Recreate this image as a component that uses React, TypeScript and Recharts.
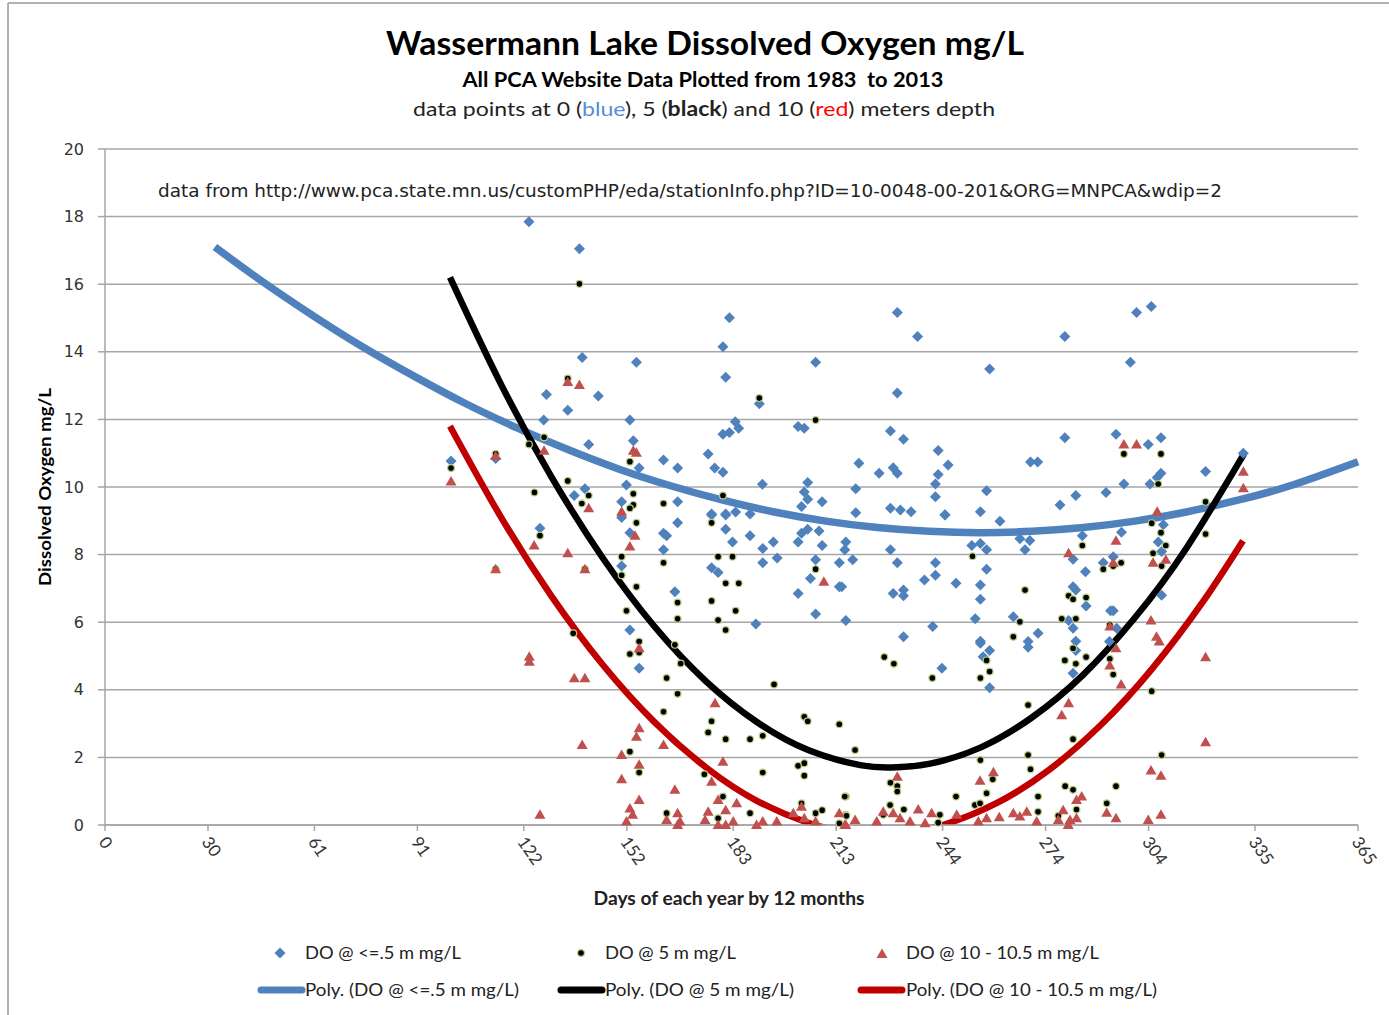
import React from 'react';
import { ComposedChart, Scatter, Line, XAxis, YAxis, CartesianGrid } from 'recharts';

// day-of-year ticks (month boundaries) and DO ticks
const dayTicks = [0, 30, 61, 91, 122, 152, 183, 213, 244, 274, 304, 335, 365];
const doTicks = [0, 2, 4, 6, 8, 10, 12, 14, 16, 18, 20];

// [day of year, DO mg/L]
const surfacePoints: [number, number][] = [
  [123.5, 17.85], [138.2, 17.05], [139.0, 13.83], [154.8, 13.69], [181.9, 15.01], [180.0, 14.15], [180.8, 13.25],
  [207.0, 13.69], [128.6, 12.74], [134.8, 12.27], [143.7, 12.69], [127.8, 11.98], [152.9, 11.98], [140.9, 11.26],
  [153.9, 11.37], [155.6, 10.56], [162.7, 10.8], [166.8, 10.56], [175.7, 10.98], [177.6, 10.56], [180.0, 10.44],
  [180.0, 11.56], [181.9, 11.61], [183.6, 11.93], [184.6, 11.74], [190.6, 12.46], [191.5, 10.08], [201.9, 11.79],
  [203.7, 11.74], [204.7, 10.13], [203.7, 9.85], [204.7, 9.64], [208.9, 9.56], [202.9, 9.42], [100.8, 10.77],
  [113.8, 10.84], [139.8, 9.95], [136.7, 9.75], [166.8, 9.56], [176.7, 9.2], [180.8, 9.2], [183.7, 9.26],
  [187.9, 9.2], [151.9, 10.06], [150.5, 9.56],
  [230.8, 15.16], [236.7, 14.45], [230.8, 12.78], [257.7, 13.49], [279.6, 14.45], [300.5, 15.16], [304.8, 15.34],
  [298.7, 13.69], [228.8, 11.66], [232.6, 11.41], [242.7, 11.08], [219.6, 10.7], [225.5, 10.41], [229.6, 10.57],
  [230.8, 10.41], [242.7, 10.37], [245.6, 10.65], [241.9, 10.09], [218.7, 9.95], [241.9, 9.71], [256.8, 9.89],
  [269.6, 10.74], [271.7, 10.74], [279.6, 11.46], [294.5, 11.56], [303.9, 11.26], [307.6, 11.46], [307.6, 10.41],
  [306.5, 10.28], [296.8, 10.09], [304.4, 10.09], [291.6, 9.84], [282.8, 9.75], [278.2, 9.47], [320.6, 10.46],
  [331.6, 11.0], [218.7, 9.24], [228.8, 9.37], [231.7, 9.32], [234.8, 9.27], [244.7, 9.18], [255.0, 9.27],
  [126.7, 8.78], [150.5, 9.1], [152.9, 8.65], [150.5, 7.66], [152.9, 5.77], [155.6, 4.64], [162.7, 8.63],
  [163.6, 8.56], [162.7, 8.14], [166.8, 8.94], [166.0, 6.9], [176.7, 9.17], [180.8, 9.17], [180.8, 8.75],
  [187.9, 8.56], [182.8, 8.37], [176.7, 7.61], [178.6, 7.47], [191.6, 8.18], [194.7, 8.37], [191.6, 7.76],
  [195.8, 7.9], [189.6, 5.95], [201.9, 8.37], [202.9, 8.63], [204.7, 8.75], [208.0, 8.7], [208.9, 8.27],
  [207.0, 7.85], [205.5, 7.29], [201.9, 6.85], [207.0, 6.24], [213.9, 7.76], [213.9, 7.05], [215.8, 8.37],
  [215.8, 6.05],
  [215.5, 8.14], [217.8, 7.85], [214.6, 7.05], [228.8, 8.14], [230.8, 7.76], [229.6, 6.85], [232.6, 6.95],
  [232.6, 6.78], [238.7, 7.25], [241.9, 7.76], [241.9, 7.39], [247.9, 7.15], [241.1, 5.87], [232.6, 5.57],
  [243.8, 4.64], [244.7, 9.17], [252.5, 8.27], [255.0, 8.33], [256.8, 8.14], [256.8, 7.57], [255.0, 7.1],
  [255.0, 6.68], [253.5, 6.1], [255.0, 5.44], [255.0, 5.38], [257.7, 5.16], [255.8, 4.98], [257.7, 4.06],
  [260.7, 8.99], [266.5, 8.47], [268.0, 8.14], [269.4, 8.42], [264.6, 6.16], [268.9, 5.43], [268.9, 5.26],
  [271.8, 5.67], [282.0, 7.05], [282.8, 6.95], [285.8, 6.48], [285.6, 7.49], [282.0, 7.86], [284.7, 8.56],
  [280.7, 6.05], [282.0, 5.82], [282.8, 5.44], [282.8, 5.16], [282.0, 4.49], [290.8, 7.76], [293.7, 7.94],
  [292.9, 6.34], [293.7, 6.34], [294.7, 5.82], [292.6, 5.43], [296.1, 8.66], [306.8, 8.37], [307.8, 8.09],
  [307.8, 6.8], [308.3, 8.88],
];

const fiveMeterPoints: [number, number][] = [
  [138.2, 16.01], [134.8, 13.21], [190.6, 12.63], [207.0, 11.98], [127.9, 11.47], [123.5, 11.26], [100.8, 10.56],
  [113.8, 10.98], [152.9, 10.75], [134.8, 10.18], [125.1, 9.84], [140.9, 9.75], [138.9, 9.51], [153.9, 9.8],
  [153.9, 9.47], [152.9, 9.37], [162.7, 9.51], [180.0, 9.75],
  [296.8, 10.98], [307.6, 10.98], [306.8, 10.09], [320.6, 9.56],
  [126.7, 8.56], [113.8, 7.57], [139.8, 7.57], [154.8, 8.94], [150.5, 7.94], [150.5, 7.39], [154.8, 7.05],
  [151.9, 6.34], [162.7, 7.76], [166.8, 6.58], [166.8, 6.1], [176.7, 8.94], [178.6, 7.94], [182.8, 7.94],
  [180.8, 7.15], [184.6, 7.15], [176.7, 6.63], [183.7, 6.34], [178.6, 6.06], [180.8, 5.77], [207.0, 7.57],
  [136.4, 5.67], [155.6, 5.43], [152.9, 5.06], [155.6, 5.1], [166.0, 5.33], [167.7, 4.78], [163.6, 4.35],
  [166.8, 3.88], [162.7, 3.35], [194.9, 4.16], [176.7, 3.07], [175.7, 2.74], [180.8, 2.54], [187.9, 2.54],
  [191.6, 2.64], [203.7, 3.2], [204.7, 3.07], [213.9, 2.98], [152.9, 2.17], [155.6, 1.55], [174.6, 1.5],
  [191.6, 1.55], [201.9, 1.75], [203.7, 1.83], [203.7, 1.46], [180.0, 0.84], [215.8, 0.84], [163.6, 0.35],
  [187.9, 0.35], [202.9, 0.64], [208.9, 0.44], [207.0, 0.35], [178.6, 0.2], [215.8, 0.3], [213.9, 0.05],
  [252.7, 7.95], [284.7, 8.27], [296.0, 7.76], [290.8, 7.57], [293.7, 7.66], [305.3, 8.04], [307.8, 7.66],
  [309.0, 8.27], [307.6, 8.65], [304.9, 8.93], [320.6, 8.61], [268.0, 6.95], [280.7, 6.78], [282.0, 6.68],
  [285.8, 6.73], [278.7, 6.1], [282.8, 6.1], [266.5, 6.01], [264.6, 5.57], [292.7, 5.92], [282.0, 5.23],
  [279.6, 4.87], [282.8, 4.77], [285.8, 4.97], [292.7, 4.92], [293.7, 4.45], [256.8, 4.87], [257.7, 4.54],
  [255.0, 4.35], [227.0, 4.97], [229.8, 4.77], [241.0, 4.35], [304.9, 3.96], [268.9, 3.55], [218.5, 2.22],
  [282.0, 2.54], [307.8, 2.07], [268.9, 2.07], [255.0, 1.92], [269.6, 1.65], [258.6, 1.35], [256.8, 0.94],
  [247.9, 0.84], [271.8, 0.84], [279.7, 1.15], [282.0, 1.04], [294.5, 1.15], [291.8, 0.64], [283.0, 0.46],
  [271.8, 0.39], [277.7, 0.27], [253.4, 0.59], [254.9, 0.64], [228.8, 1.25], [230.8, 1.15], [230.8, 0.99],
  [215.5, 0.84], [228.7, 0.59], [232.7, 0.46], [216.0, 0.27], [243.2, 0.3], [226.7, 0.3], [242.7, 0.07],
];

const tenMeterPoints: [number, number][] = [
  [134.8, 13.11], [138.2, 13.02], [127.9, 11.07], [153.9, 11.07], [154.8, 11.01], [113.8, 10.92], [100.8, 10.16],
  [140.9, 9.37], [150.5, 9.27],
  [296.8, 11.26], [300.5, 11.26], [331.6, 10.45], [331.6, 9.96], [306.5, 9.27], [209.4, 7.2],
  [113.8, 7.57], [125.0, 8.27], [134.8, 8.04], [139.8, 7.57], [154.4, 8.56], [152.9, 8.24], [123.6, 4.98],
  [123.6, 4.83], [136.7, 4.34], [139.8, 4.34], [155.6, 5.23], [177.7, 3.6], [155.6, 2.86], [154.8, 2.61],
  [162.7, 2.37], [139.0, 2.37], [150.5, 2.07], [155.6, 1.78], [150.5, 1.35], [180.0, 1.87], [166.0, 1.04],
  [176.7, 1.28], [126.7, 0.3], [155.6, 0.74], [152.9, 0.49], [153.7, 0.3], [151.9, 0.1], [163.6, 0.15],
  [166.8, 0.35], [167.5, 0.1], [166.8, 0.0], [175.7, 0.39], [178.6, 0.74], [180.8, 0.44], [178.6, 0.0],
  [180.8, 0.0], [183.0, 0.1], [184.0, 0.64], [191.6, 0.1], [195.7, 0.1], [189.8, 0.0], [202.9, 0.54],
  [203.7, 0.2], [207.0, 0.1], [213.9, 0.35], [215.8, 0.0], [200.5, 0.35], [174.8, 0.15],
  [294.5, 8.41], [280.7, 8.04], [293.7, 7.76], [305.3, 7.76], [309.0, 7.85], [304.7, 6.05], [292.7, 5.87],
  [306.3, 5.57], [307.1, 5.43], [294.5, 5.23], [292.7, 4.72], [296.0, 4.16], [320.6, 4.96], [320.6, 2.45],
  [280.7, 3.6], [278.7, 3.25], [230.8, 1.43], [258.8, 1.56], [254.9, 1.31], [304.7, 1.61], [307.6, 1.46],
  [284.5, 0.84], [283.0, 0.74], [291.8, 0.36], [294.5, 0.2], [303.9, 0.15], [307.6, 0.3], [236.9, 0.46],
  [226.7, 0.39], [229.6, 0.35], [231.6, 0.2], [234.5, 0.1], [240.8, 0.35], [238.9, 0.05], [224.8, 0.1],
  [218.5, 0.15], [215.5, 0.0], [248.1, 0.3], [254.4, 0.1], [256.8, 0.2], [260.5, 0.23], [264.6, 0.35],
  [266.5, 0.25], [268.5, 0.39], [271.4, 0.1], [277.7, 0.15], [279.1, 0.44], [281.1, 0.15], [283.0, 0.2],
  [280.6, 0.0],
];

// polynomial trendlines
const surfaceTrend: [number, number][] = [
  [32, 17.1], [45, 16.14], [60, 15.11], [75, 14.15], [90, 13.28], [105, 12.47], [120, 11.75], [135, 11.1],
  [150, 10.52], [165, 10.03], [180, 9.61], [195, 9.26], [210, 8.99], [225, 8.8], [240, 8.69], [255, 8.65],
  [270, 8.69], [285, 8.8], [300, 8.99], [315, 9.26], [330, 9.61], [345, 10.03], [365, 10.75],
];
const fiveMeterTrend: [number, number][] = [
  [100.5, 16.2], [115, 13.11], [130, 10.31], [145, 7.9], [160, 5.88], [175, 4.26], [190, 3.04], [205, 2.21],
  [220, 1.77], [229, 1.7], [240, 1.81], [255, 2.29], [270, 3.18], [285, 4.45], [300, 6.13], [315, 8.19],
  [331.8, 10.98],
];
const tenMeterTrend: [number, number][] = [
  [100.5, 11.8], [115, 9.17], [130, 6.78], [145, 4.74], [160, 3.05], [175, 1.71], [190, 0.71], [205, 0.06],
  [215, -0.18], [225.5, -0.26], [235, -0.19], [245, 0.03], [260, 0.66], [275, 1.63], [290, 2.95], [305, 4.62],
  [320, 6.63], [331.5, 8.41],
];

const rows = (pts: [number, number][]) => pts.map(([day, mg]) => ({ day, mg }));

const BLUE = '#4F81BD';
const RED_PT = '#C0504D';
const RED_LINE = '#C00000';
const GRID = '#a6a6a6';
const FONT = 'Lato, "Open Sans", sans-serif';

const Diamond = (p: any) => (
  <polygon
    points={`${p.cx},${p.cy - 5.5} ${p.cx + 5.5},${p.cy} ${p.cx},${p.cy + 5.5} ${p.cx - 5.5},${p.cy}`}
    fill={BLUE}
  />
);
const Dot = (p: any) => <circle cx={p.cx} cy={p.cy} r={3.4} fill="#000" stroke="#b8d084" strokeWidth={1.2} />;
const Tri = (p: any) => (
  <polygon points={`${p.cx},${p.cy - 5.5} ${p.cx + 5.5},${p.cy + 4} ${p.cx - 5.5},${p.cy + 4}`} fill={RED_PT} />
);

const DayTick = (p: any) => {
  const x = p.x - 7;
  const y = p.y + 9;
  return (
    <text x={x} y={y} transform={`rotate(55 ${x} ${y})`} fontSize={17} fontFamily={FONT} fill="#333">
      {p.payload.value}
    </text>
  );
};

export default function App() {
  return (
    <div style={{ position: 'absolute', left: 0, top: 0, width: 1389, height: 1015, background: '#fff' }}>
      <ComposedChart width={1389} height={1015} margin={{ top: 149, right: 31, bottom: 130, left: 45 }}>
        <CartesianGrid vertical={false} stroke={GRID} strokeWidth={1.5} />
        <XAxis
          type="number"
          dataKey="day"
          domain={[0, 365]}
          ticks={dayTicks}
          interval={0}
          height={60}
          tickSize={6}
          axisLine={{ stroke: GRID, strokeWidth: 1.5 }}
          tickLine={{ stroke: GRID, strokeWidth: 1.5 }}
          tick={<DayTick />}
        />
        <YAxis
          type="number"
          dataKey="mg"
          domain={[0, 20]}
          ticks={doTicks}
          interval={0}
          width={60}
          tickSize={7}
          tickMargin={14}
          axisLine={{ stroke: GRID, strokeWidth: 1.5 }}
          tickLine={{ stroke: GRID, strokeWidth: 1.5 }}
          tick={{ fontSize: 16, fontFamily: '"DejaVu Sans", sans-serif', fill: '#333' }}
        />
        <YAxis yAxisId="trend" type="number" dataKey="mg" domain={[0, 20]} allowDataOverflow hide />
        <Scatter data={rows(surfacePoints)} shape={<Diamond />} isAnimationActive={false} />
        <Scatter data={rows(fiveMeterPoints)} shape={<Dot />} isAnimationActive={false} />
        <Scatter data={rows(tenMeterPoints)} shape={<Tri />} isAnimationActive={false} />
        <Line yAxisId="trend" data={rows(surfaceTrend)} dataKey="mg" type="natural" stroke={BLUE} strokeWidth={7.5} dot={false} isAnimationActive={false} />
        <Line yAxisId="trend" data={rows(fiveMeterTrend)} dataKey="mg" type="natural" stroke="#000" strokeWidth={6.5} dot={false} isAnimationActive={false} />
        <Line yAxisId="trend" data={rows(tenMeterTrend)} dataKey="mg" type="natural" stroke={RED_LINE} strokeWidth={6.5} dot={false} isAnimationActive={false} />
      </ComposedChart>

      <svg width={1389} height={1015} style={{ position: 'absolute', left: 0, top: 0, pointerEvents: 'none' }}>
        <line x1={8} y1={3} x2={1389} y2={3} stroke="#999" strokeWidth={1.5} />
        <line x1={8} y1={3} x2={8} y2={1015} stroke="#999" strokeWidth={1.5} />

        <text x={705} y={55} textAnchor="middle" fontSize={32} fontWeight="bold" fontFamily={FONT} textLength={638} lengthAdjust="spacingAndGlyphs">
          Wassermann Lake Dissolved Oxygen mg/L
        </text>
        <text x={703} y={87} textAnchor="middle" fontSize={20} fontWeight="bold" fontFamily={FONT} textLength={481} lengthAdjust="spacingAndGlyphs" style={{ whiteSpace: 'pre' }}>
          All PCA Website Data Plotted from 1983  to 2013
        </text>
        <text x={704} y={116} textAnchor="middle" fontSize={20} fontFamily={FONT} fill="#222" textLength={582} lengthAdjust="spacingAndGlyphs">
          data points at 0 (<tspan fill="#558ED5">blue</tspan>), 5 (<tspan fontWeight="bold">black</tspan>) and 10 (<tspan fill="#FF0000">red</tspan>) meters depth
        </text>
        <text x={158} y={197} fontSize={17} fontFamily='"DejaVu Sans", sans-serif' fill="#222" textLength={1064} lengthAdjust="spacingAndGlyphs">
          data from http://www.pca.state.mn.us/customPHP/eda/stationInfo.php?ID=10-0048-00-201&amp;ORG=MNPCA&amp;wdip=2
        </text>
        <text transform="translate(51 487) rotate(-90)" textAnchor="middle" fontSize={17} fontWeight="bold" fontFamily={FONT} textLength={198} lengthAdjust="spacingAndGlyphs">
          Dissolved Oxygen mg/L
        </text>
        <text x={729} y={905} textAnchor="middle" fontSize={18} fontWeight="bold" fontFamily={FONT} fill="#222" textLength={271} lengthAdjust="spacingAndGlyphs">
          Days of each year by 12 months
        </text>

        <g fontFamily={FONT} fontSize={18} fill="#222">
          <Diamond cx={280} cy={953} />
          <text x={305} y={959} textLength={156} lengthAdjust="spacingAndGlyphs">DO @ &lt;=.5 m mg/L</text>
          <Dot cx={581} cy={953} />
          <text x={605} y={959} textLength={131} lengthAdjust="spacingAndGlyphs">DO @ 5 m mg/L</text>
          <Tri cx={882} cy={954} />
          <text x={906} y={959} textLength={193} lengthAdjust="spacingAndGlyphs">DO @ 10 - 10.5 m mg/L</text>

          <line x1={261} y1={990} x2={302} y2={990} stroke={BLUE} strokeWidth={7} strokeLinecap="round" />
          <text x={305} y={996} textLength={214} lengthAdjust="spacingAndGlyphs">Poly. (DO @ &lt;=.5 m mg/L)</text>
          <line x1={561} y1={990} x2={602} y2={990} stroke="#000" strokeWidth={7} strokeLinecap="round" />
          <text x={605} y={996} textLength={189} lengthAdjust="spacingAndGlyphs">Poly. (DO @ 5 m mg/L)</text>
          <line x1={861} y1={990} x2={902} y2={990} stroke={RED_LINE} strokeWidth={7} strokeLinecap="round" />
          <text x={906} y={996} textLength={251} lengthAdjust="spacingAndGlyphs">Poly. (DO @ 10 - 10.5 m mg/L)</text>
        </g>
      </svg>
    </div>
  );
}
